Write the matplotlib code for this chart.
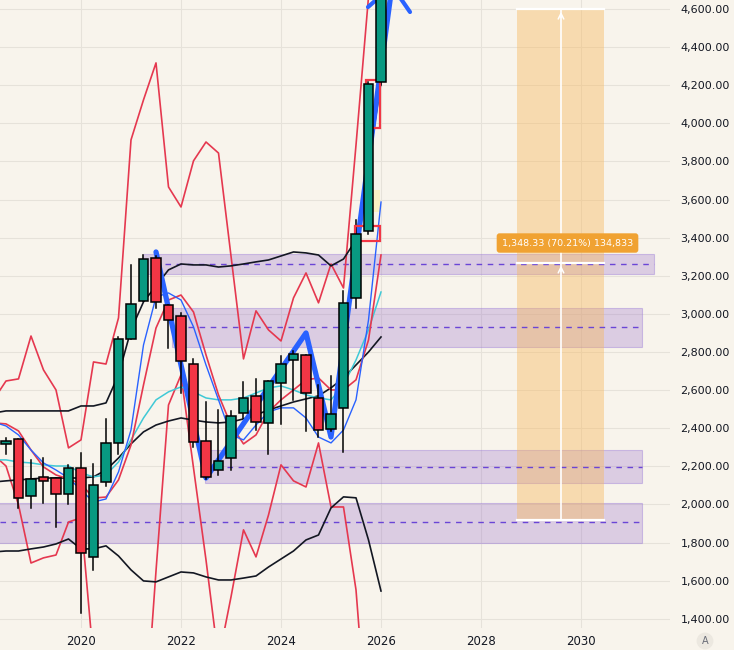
import matplotlib
matplotlib.use("Agg")
import matplotlib.pyplot as plt
from matplotlib.patches import Rectangle
from matplotlib.ticker import FuncFormatter, FixedLocator

# ---------------- data ----------------
# quarter index relative to 2020 Q1 (0 = 2020 Q1)
line_q = list(range(-7, 25))
candle_q = list(range(-6, 25))

opens  = [2316, 2342, 2043, 2143, 2138, 2054, 2190, 1727, 2120, 2321, 2867, 3066, 3292, 3045, 2988, 2736,
          2332, 2181, 2243, 2479, 2571, 2426, 2636, 2757, 2783, 2557, 2395, 2505, 3082, 3435, 4215]
highs  = [2348, 2345, 2234, 2244, 2140, 2208, 2272, 2213, 2449, 2878, 3257, 3309, 3304, 3047, 3005, 2765,
          2540, 2496, 2491, 2641, 2657, 2647, 2779, 2806, 2783, 2625, 2675, 3120, 3493, 4215, 4800]
lows   = [2265, 1980, 1982, 2010, 1884, 2003, 1433, 1657, 2097, 2265, 2867, 3066, 3030, 2820, 2587, 2304,
          2133, 2155, 2181, 2453, 2391, 2265, 2423, 2549, 2383, 2356, 2383, 2277, 3030, 3420, 4200]
closes = [2335, 2033, 2133, 2122, 2054, 2190, 1744, 2101, 2321, 2869, 3051, 3287, 3061, 2967, 2752, 2327,
          2146, 2227, 2466, 2557, 2435, 2647, 2736, 2788, 2584, 2391, 2473, 3059, 3418, 4205, 4750]

band_upper_black = [2480, 2491, 2491, 2491, 2491, 2491, 2491, 2517, 2517, 2533, 2680, 2916, 3063, 3147, 3231, 3262,
                    3257, 3257, 3246, 3252, 3262, 3273, 3283, 3304, 3325, 3320, 3309, 3252, 3288, 3388, 3782, 4217]
band_mid_black   = [2118, 2124, 2129, 2134, 2139, 2139, 2139, 2139, 2145, 2181, 2244, 2318, 2381, 2417, 2438, 2454,
                    2443, 2433, 2428, 2433, 2449, 2470, 2496, 2517, 2538, 2554, 2570, 2612, 2664, 2732, 2800, 2879]
band_lower_black = [1751, 1756, 1756, 1767, 1777, 1793, 1819, 1767, 1767, 1783, 1730, 1657, 1599, 1594, 1620, 1646,
                    1641, 1620, 1604, 1604, 1614, 1625, 1672, 1714, 1756, 1814, 1840, 1982, 2040, 2035, 1814, 1546]
ma_red  = [2428, 2423, 2386, 2286, 2197, 2155, 2134, 2108, 2034, 2039, 2129, 2312, 2627, 2926, 3073, 3099,
           3010, 2785, 2575, 2417, 2318, 2365, 2486, 2549, 2601, 2654, 2664, 2601, 2601, 2654, 2863, 3309]
ma_blue = [2433, 2412, 2365, 2286, 2218, 2181, 2139, 2076, 2013, 2029, 2171, 2391, 2837, 3089, 3110, 3073,
           2932, 2732, 2549, 2365, 2339, 2417, 2486, 2507, 2507, 2454, 2354, 2323, 2391, 2549, 2968, 3587]
ma_cyan = [2234, 2234, 2223, 2218, 2208, 2202, 2202, 2166, 2145, 2155, 2223, 2339, 2454, 2549, 2591, 2617,
           2591, 2559, 2549, 2549, 2559, 2585, 2612, 2622, 2601, 2575, 2559, 2549, 2627, 2758, 2916, 3115]
env_upper_red = [2549, 2648, 2659, 2884, 2706, 2601, 2297, 2339, 2748, 2737, 2979, 3913, 4123, 4317, 3666, 3561,
                 3803, 3902, 3844, 3304, 2764, 3016, 2916, 2858, 3084, 3215, 3058, 3262, 3136, 3886, 4663, 5100]
env_lower_red = [2260, 2202, 1998, 1693, 1720, 1735, 1908, 1930, 1184, 450, 660, 188, 733, 1651, 2522, 2680,
                 2192, 1709, 1184, 1515, 1867, 1725, 1945, 2208, 2124, 2092, 2323, 1987, 1987, 1552, 712, 300]

zigzag_t = [2021.5, 2022.5, 2024.5, 2025.0, 2026.22]
zigzag_p = [3325, 2139, 2900, 2354, 4721]
arrowhead_t = [2025.74, 2026.22, 2026.58]
arrowhead_p = [4610, 4721, 4584]

zone_bottom = [3210, 2827, 2113, 1798]
zone_top    = [3315, 3031, 2286, 2008]
zone_mid    = [3262, 2932, 2197, 1908]
zone_start  = [2021.24, 2021.82, 2022.48, 2018.30]
zone_end    = [2031.46, 2031.22, 2031.22, 2031.22]
dash_start  = [2021.68, 2022.14, 2022.92, 2018.38]

red_boxes = [(2025.71, 2025.99, 3976, 4227), (2025.48, 2025.99, 3383, 3461)]
yellow_box = (2025.82, 2025.98, 3535, 3650)

range_t0, range_t1, range_tmid = 2028.72, 2030.46, 2029.60
range_levels = [1919, 3268, 4600]
range_label = "1,348.33 (70.21%) 134,833"

year_ticks = [2020, 2022, 2024, 2026, 2028, 2030]
price_ticks = list(range(1400, 4601, 200))

# ---------------- style ----------------
BG = '#f8f4ec'
GRID = '#e6e2da'
GREEN = '#089981'
RED = '#f23645'
LINE_RED = '#e5384f'
BLUE = '#2962ff'
CYAN = '#3fc9d6'
BLACK = '#131722'

fig = plt.figure(figsize=(7.34, 6.5), dpi=100, facecolor=BG)
ax = fig.add_axes([0, 22 / 650, 670 / 734, 628 / 650], facecolor=BG)
ax.set_xlim(2018.38, 2031.78)
ax.set_ylim(1352, 4647)

for s in ax.spines.values():
    s.set_visible(False)

ax.xaxis.set_major_locator(FixedLocator(year_ticks))
ax.yaxis.set_major_locator(FixedLocator(price_ticks))
ax.yaxis.tick_right()
ax.yaxis.set_major_formatter(FuncFormatter(lambda v, p: f"{v:,.2f}"))
ax.xaxis.set_major_formatter(FuncFormatter(lambda v, p: f"{int(v)}"))
ax.tick_params(axis='y', length=0, pad=7.5, labelsize=8, labelcolor=BLACK)
ax.tick_params(axis='x', length=0, pad=5, labelsize=8.5, labelcolor=BLACK)
ax.grid(True, color=GRID, lw=0.8, zorder=0)
ax.set_axisbelow(True)

# zones
for b, t, m, s0, s1, d0 in zip(zone_bottom, zone_top, zone_mid, zone_start, zone_end, dash_start):
    ax.add_patch(Rectangle((s0, b), s1 - s0, t - b, facecolor=(0.60, 0.44, 0.80, 0.30),
                           edgecolor=(0.62, 0.50, 0.85, 0.45), lw=0.8, zorder=1, clip_on=True))
    ax.plot([d0, s1], [m, m], color='#6a45d6', lw=1, dashes=(4, 4), zorder=2)

# price range tool
ax.add_patch(Rectangle((range_t0, range_levels[0]), range_t1 - range_t0, range_levels[2] - range_levels[0],
                       facecolor=(0.97, 0.72, 0.36, 0.42), edgecolor='none', zorder=1.5))
for lv in range_levels:
    ax.plot([range_t0, range_t1], [lv, lv], color='white', lw=1.6, zorder=2.5)
ax.plot([range_tmid, range_tmid], [range_levels[0], range_levels[2]], color='white', lw=1.2, zorder=2.5)
for lv in range_levels[1:]:
    ax.annotate('', xy=(range_tmid, lv), xytext=(range_tmid, lv - 60),
                arrowprops=dict(arrowstyle='->', color='white', lw=1.1), zorder=2.6)

times = [2020 + 0.25 * q for q in line_q]
ctimes = [2020 + 0.25 * q for q in candle_q]

# indicator lines
ax.plot(times, env_upper_red, color=LINE_RED, lw=1.2, zorder=3)
ax.plot(times, env_lower_red, color=LINE_RED, lw=1.2, zorder=3)
ax.plot(times, band_upper_black, color=BLACK, lw=1.2, zorder=3)
ax.plot(times, band_lower_black, color=BLACK, lw=1.2, zorder=3)
ax.plot(times, band_mid_black, color=BLACK, lw=1.2, zorder=3)
ax.plot(times, ma_cyan, color=CYAN, lw=1.1, zorder=3)
ax.plot(times, ma_red, color=LINE_RED, lw=1.2, zorder=3)
ax.plot(times, ma_blue, color=BLUE, lw=1.0, zorder=3)

# zigzag
ax.plot(zigzag_t, zigzag_p, color=BLUE, lw=3.8, solid_capstyle='round', solid_joinstyle='round', zorder=4)
ax.plot(arrowhead_t, arrowhead_p, color=BLUE, lw=3.0, solid_capstyle='round', zorder=4)

# candles
w = 0.185
for t, o, h, l, c in zip(ctimes, opens, highs, lows, closes):
    col = GREEN if c >= o else RED
    ax.plot([t, t], [l, h], color='black', lw=1.1, zorder=5)
    ax.add_patch(Rectangle((t - w / 2, min(o, c)), w, abs(c - o), facecolor=col,
                           edgecolor='black', lw=1.1, zorder=6))

# boxes
for t0, t1, p0, p1 in red_boxes:
    ax.add_patch(Rectangle((t0, p0), t1 - t0, p1 - p0, facecolor='none', edgecolor=RED, lw=1.6, zorder=5.5))
yt0, yt1, yp0, yp1 = yellow_box
ax.add_patch(Rectangle((yt0, yp0), yt1 - yt0, yp1 - yp0, facecolor='#fbf1c0', edgecolor='none', alpha=0.9, zorder=2.8))

# range label
ax.text((range_t0 + range_t1) / 2 + 0.14, 3372, range_label, ha='center', va='center', color='white',
        fontsize=6.8, zorder=8,
        bbox=dict(boxstyle='round,pad=0.55,rounding_size=0.3', fc='#f0a232', ec='none'))

# auto-scale button
fig.text(705 / 734, 1 - 641 / 650, 'A', ha='center', va='center', fontsize=7, color='#6a6d78',
         bbox=dict(boxstyle='circle,pad=0.35', fc='#ece8e0', ec='none'))

fig.savefig('out.png', dpi=100, facecolor=BG)
